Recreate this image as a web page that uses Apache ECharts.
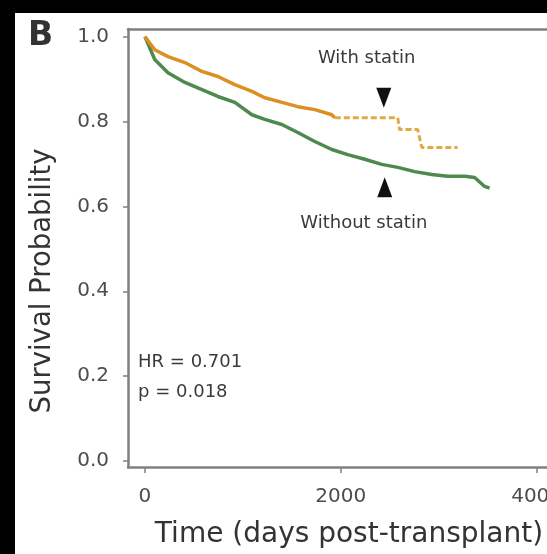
<!DOCTYPE html>
<html>
<head>
<meta charset="utf-8">
<script src="https://cdn.jsdelivr.net/npm/echarts@6/dist/echarts.min.js"></script>
<style>
  html, body { margin: 0; padding: 0; background: #000; width: 547px; height: 554px; overflow: hidden; }
  #chart { position: absolute; left: 15px; top: 13px; width: 532px; height: 541px; background: #fff; }
</style>
</head>
<body>
<div id="chart"></div>
<script>
// Kaplan-Meier estimates, time in days post-transplant
const withStatinTime = [0, 100, 235, 408, 582, 745, 918, 1092, 1224, 1400, 1561, 1735, 1908, 1939, 2100, 2300, 2450, 2582, 2600, 2786, 2827, 3194];
const withStatinSurv = [1.0, 0.969, 0.953, 0.939, 0.918, 0.906, 0.887, 0.871, 0.856, 0.845, 0.835, 0.828, 0.816, 0.809, 0.809, 0.809, 0.809, 0.809, 0.781, 0.781, 0.739, 0.739];
const withoutStatinTime = [0, 100, 235, 408, 582, 745, 918, 1092, 1224, 1398, 1561, 1735, 1908, 2071, 2245, 2418, 2582, 2755, 2929, 3092, 3265, 3367, 3469, 3520];
const withoutStatinSurv = [1.0, 0.946, 0.915, 0.892, 0.875, 0.859, 0.845, 0.816, 0.805, 0.793, 0.774, 0.753, 0.734, 0.722, 0.711, 0.699, 0.692, 0.682, 0.675, 0.671, 0.671, 0.668, 0.647, 0.643];

// sparse follow-up after this time: drawn broken
const sparseFrom = 1939;

const xTicks = [0, 2000, 4000];
const yTicks = [0, 0.2, 0.4, 0.6, 0.8, 1.0];

const hrText = 'HR = 0.701';
const pText = 'p = 0.018';

const pairs = (t, s) => t.map((v, i) => [v, s[i]]);
const withPts = pairs(withStatinTime, withStatinSurv);
const withSolid = withPts.filter(p => p[0] <= sparseFrom);
const withSparse = withPts.filter(p => p[0] >= sparseFrom);
const withoutPts = pairs(withoutStatinTime, withoutStatinSurv);

const axisGray = '#808080';
const font = 'DejaVu Sans';

const chart = echarts.init(document.getElementById('chart'), null, { renderer: 'canvas' });

const textMark = (coord, text, pos) => ({
  coord: coord,
  symbol: 'circle',
  symbolSize: 0,
  label: {
    show: true,
    position: pos || 'inside',
    distance: 0,
    formatter: text,
    fontFamily: font,
    fontSize: 18,
    color: '#3a3a3a'
  }
});

chart.setOption({
  animation: false,
  // the panel runs past the right edge of the figure
  grid: { left: 113, top: 16, width: 438, bottom: 87, outerBoundsMode: 'none', containLabel: false },
  xAxis: [{
    type: 'value',
    min: -173,
    max: 4300,
    axisLine: { show: true, onZero: false, lineStyle: { color: axisGray, width: 2.5 } },
    axisTick: { show: true, length: 6, lineStyle: { color: axisGray, width: 1.5 }, customValues: xTicks },
    axisLabel: {
      show: true, customValues: xTicks, margin: 20,
      fontFamily: font, fontSize: 20, color: '#4d4d4d',
      formatter: v => String(Math.round(v))
    },
    splitLine: { show: false }
  }, {
    type: 'value',
    position: 'top',
    min: -173,
    max: 4300,
    axisLine: { show: true, onZero: false, lineStyle: { color: axisGray, width: 2.5 } },
    axisTick: { show: false },
    axisLabel: { show: false },
    splitLine: { show: false }
  }],
  yAxis: {
    type: 'value',
    min: -0.014,
    max: 1.018,
    axisLine: { show: true, onZero: false, lineStyle: { color: axisGray, width: 2.5 } },
    axisTick: { show: true, length: 5, lineStyle: { color: axisGray, width: 1.5 }, customValues: yTicks },
    axisLabel: {
      show: true, customValues: yTicks, margin: 19,
      fontFamily: font, fontSize: 20, color: '#4d4d4d',
      formatter: v => Number(v).toFixed(1)
    },
    splitLine: { show: false }
  },
  graphic: [
    { type: 'text', left: 13, top: 7, style: { text: 'B', font: 'bold 33px "DejaVu Sans"', fill: '#333' } },
    { type: 'text', x: 28, y: 268, rotation: Math.PI / 2,
      style: { text: 'Survival Probability', font: '27.5px "DejaVu Sans"', fill: '#333', align: 'center', verticalAlign: 'middle' } },
    { type: 'text', x: 334, y: 522,
      style: { text: 'Time (days post-transplant)', font: '28px "DejaVu Sans"', fill: '#333', align: 'center', verticalAlign: 'middle' } }
  ],
  series: [
    {
      name: 'Without statin',
      type: 'line',
      data: withoutPts,
      showSymbol: false,
      lineStyle: { color: '#4e8a4e', width: 3.5 },
      z: 3,
      markPoint: {
        silent: true,
        data: [
          { coord: [2449, 0.645], symbol: 'triangle', symbolSize: [15, 20], itemStyle: { color: '#111' }, label: { show: false } },
          textMark([2235, 0.56], 'Without statin'),
          textMark([-70, 0.233], hrText, 'right'),
          textMark([-70, 0.162], pText, 'right')
        ]
      }
    },
    {
      name: 'With statin',
      type: 'line',
      data: withSolid,
      showSymbol: false,
      lineStyle: { color: '#dc8f22', width: 3.5 },
      z: 4,
      markPoint: {
        silent: true,
        data: [
          { coord: [2439, 0.856], symbol: 'triangle', symbolRotate: 180, symbolSize: [15, 20], itemStyle: { color: '#111' }, label: { show: false } },
          textMark([2265, 0.948], 'With statin')
        ]
      }
    },
    {
      name: 'With statin (sparse)',
      type: 'line',
      data: withSparse,
      showSymbol: false,
      lineStyle: { color: '#e0aa45', width: 3, type: [6, 3] },
      z: 4
    }
  ]
});
</script>
</body>
</html>
